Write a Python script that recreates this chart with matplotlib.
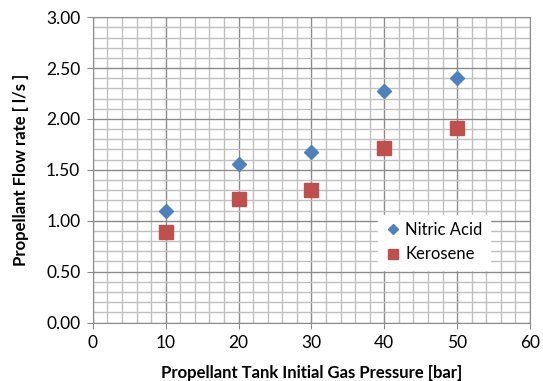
import matplotlib
matplotlib.use("Agg")
import matplotlib.pyplot as plt
from matplotlib.ticker import MultipleLocator, FormatStrFormatter

plt.rcParams['font.family'] = ['Lato', 'DejaVu Sans']

pressure = [10, 20, 30, 40, 50]
nitric_acid = [1.10, 1.56, 1.68, 2.27, 2.40]
kerosene = [0.89, 1.21, 1.30, 1.71, 1.91]

fig = plt.figure(figsize=(5.43, 3.81), dpi=100)
ax = fig.add_axes([0.171, 0.1535, 0.805, 0.8015])

ax.set_xlim(0, 60)
ax.set_ylim(0, 3)
ax.xaxis.set_major_locator(MultipleLocator(10))
ax.xaxis.set_minor_locator(MultipleLocator(2))
ax.yaxis.set_major_locator(MultipleLocator(0.5))
ax.yaxis.set_minor_locator(MultipleLocator(0.1))
ax.yaxis.set_major_formatter(FormatStrFormatter('%.2f'))

ax.grid(which='major', color='#8c8c8c', linewidth=1.0)
ax.grid(which='minor', color='#c0c0c0', linewidth=1.0)
ax.set_axisbelow(True)

for s in ax.spines.values():
    s.set_color('#8c8c8c')
ax.tick_params(which='major', length=4, color='#8c8c8c', labelsize=12.5, pad=5)
ax.tick_params(which='minor', length=0)

ax.plot(pressure, nitric_acid, linestyle='none', marker='D', ms=7,
        color='#4F81BD', label='Nitric Acid')
ax.plot(pressure, kerosene, linestyle='none', marker='s', ms=10,
        color='#C0504D', label='Kerosene')

ax.set_xlabel('Propellant Tank Initial Gas Pressure [bar]', fontsize=12,
              fontweight='bold', labelpad=10)
ax.set_ylabel('Propellant Flow rate [ l/s ]', fontsize=12,
              fontweight='bold', labelpad=12)

leg = ax.legend(loc='lower right', bbox_to_anchor=(0.908, 0.172),
                borderaxespad=0, frameon=True, fancybox=False, fontsize=12,
                handlelength=0.9, handletextpad=0.3, markerscale=0.7,
                borderpad=0.45, labelspacing=0.5)
leg.get_frame().set_edgecolor('white')
leg.get_frame().set_facecolor('white')
leg.get_frame().set_alpha(1.0)

fig.savefig('out.png', dpi=100)
